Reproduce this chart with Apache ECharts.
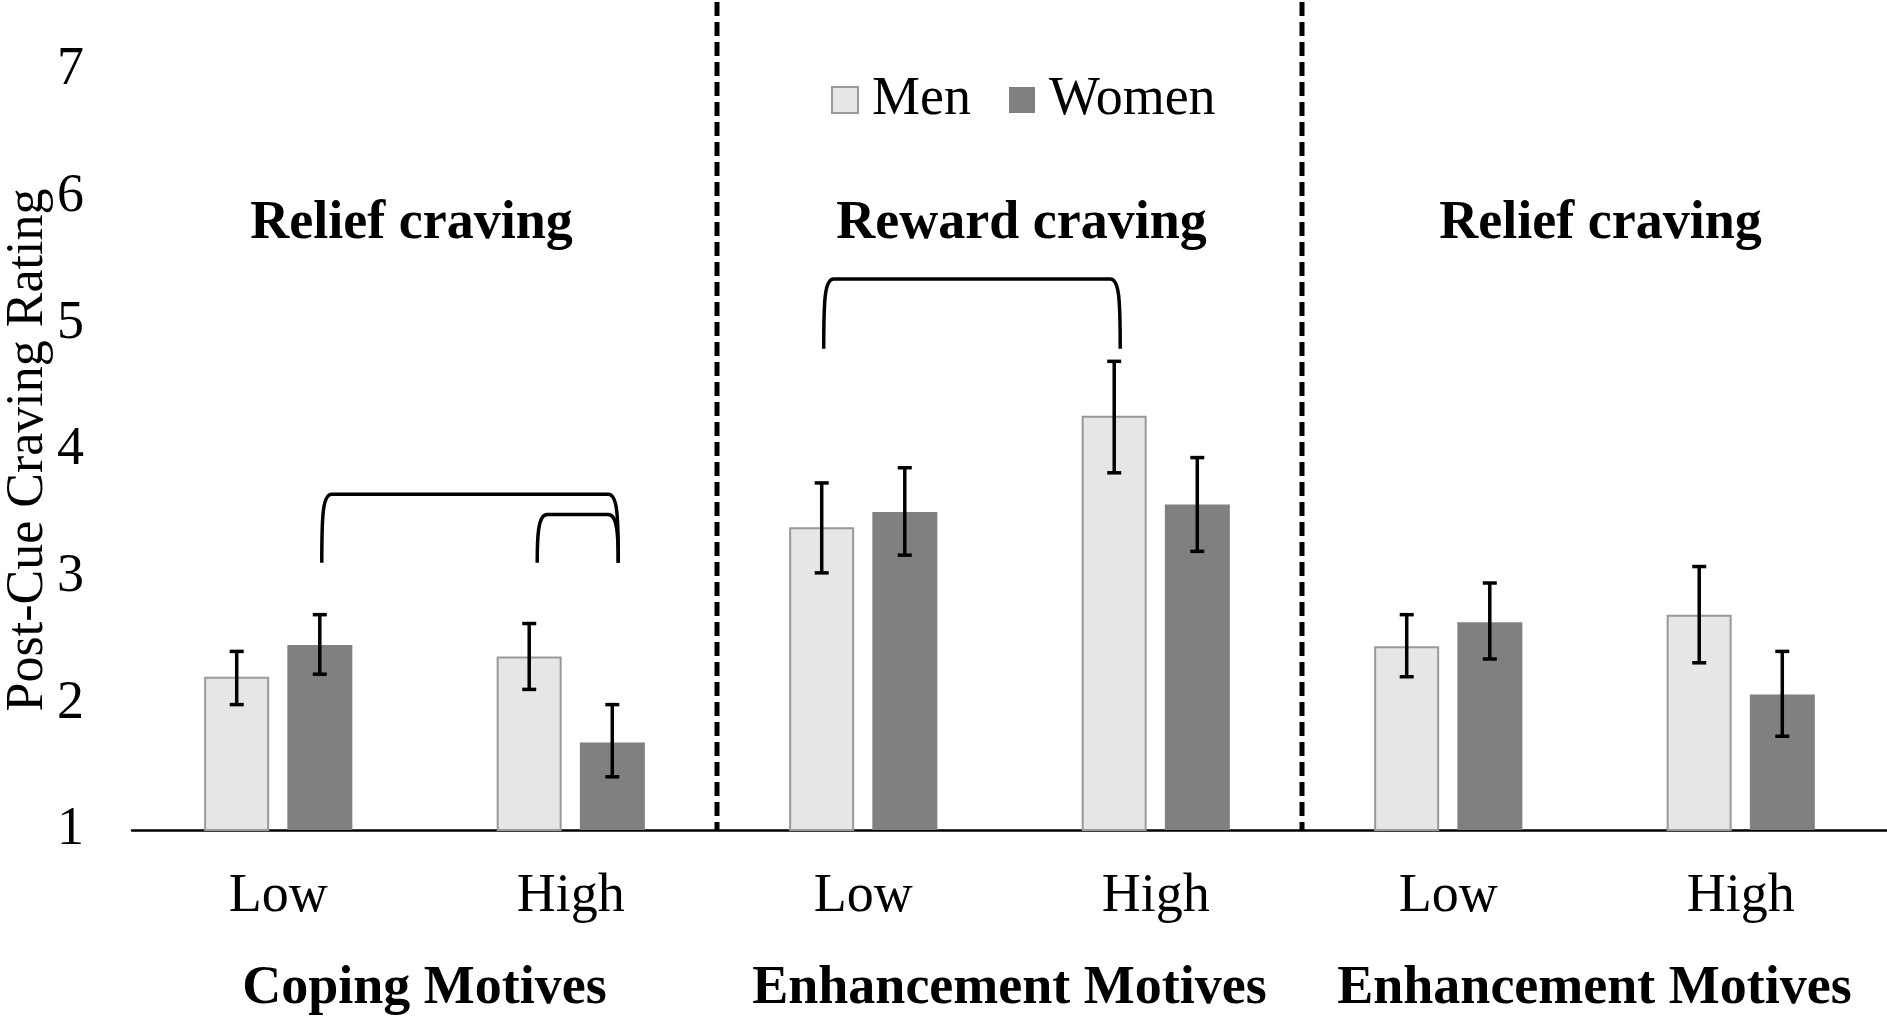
<!DOCTYPE html>
<html><head><meta charset="utf-8">
<script src="https://cdn.jsdelivr.net/npm/echarts@6/dist/echarts.min.js"></script>
<style>html,body{margin:0;padding:0;background:#fff}#c{width:1887px;height:1018px}</style>
</head><body><div id="c"></div>
<script>
const categories = ['Low', 'High', 'Low', 'High', 'Low', 'High'];
const groupNames = ['Coping Motives', 'Enhancement Motives', 'Enhancement Motives'];
const panelTitles = ['Relief craving', 'Reward craving', 'Relief craving'];
const yTicks = [1, 2, 3, 4, 5, 6, 7];
const menValues = [2.21, 2.37, 3.39, 4.27, 2.45, 2.70];
const womenValues = [2.46, 1.69, 3.51, 3.57, 2.64, 2.07];
const menErrLow = [1.99, 2.11, 3.03, 3.82, 2.21, 2.32];
const menErrHigh = [2.41, 2.63, 3.74, 4.70, 2.70, 3.08];
const womenErrLow = [2.23, 1.42, 3.17, 3.20, 2.35, 1.74];
const womenErrHigh = [2.70, 1.99, 3.86, 3.94, 2.95, 2.41];
// brackets: [fromCategory, fromSeries (0 men, 1 women), toCategory, toSeries, topValue, endValue]
const brackets = [
  [0, 1, 1, 1, 3.65, 3.11],
  [1, 0, 1, 1, 3.49, 3.11],
  [2, 0, 3, 0, 5.35, 4.80]
];
const panelTitleValue = 5.78;
const dividerAfter = [1, 3];

const FONT = '"Liberation Serif", "Times New Roman", serif';
const BAR_OFFSET = 0.142; // fraction of category band from center to bar center
const TITLE_SHIFT = [-13, 12, 6]; // small horizontal nudges of panel titles (px)

const chart = echarts.init(document.getElementById('c'), null, {renderer: 'canvas'});

const errData = [];
for (let i = 0; i < categories.length; i++) {
  errData.push([i, 0, menErrLow[i], menErrHigh[i]]);
  errData.push([i, 1, womenErrLow[i], womenErrHigh[i]]);
}

function barX(api, cat, s) {
  const band = api.size([1, 0])[0];
  const c = api.coord([cat, yTicks[0]])[0];
  return c + (s === 0 ? -1 : 1) * band * BAR_OFFSET;
}

const option = {
  animation: false,
  backgroundColor: '#fff',
  grid: {left: 132, right: 0, top: 70, bottom: 188, containLabel: false, outerBoundsMode: 'none'},
  legend: {
    data: ['Men', 'Women'],
    left: 826, top: 68,
    icon: 'rect', itemWidth: 26, itemHeight: 26, itemGap: 38,
    textStyle: {fontFamily: FONT, fontSize: 54, color: '#000', padding: [0, 0, 0, 9]}
  },
  xAxis: [{
    type: 'category', data: categories,
    axisLine: {lineStyle: {color: '#000', width: 2.5}},
    axisTick: {show: false},
    axisLabel: {fontFamily: FONT, fontSize: 54, color: '#000', margin: 40, interval: 0}
  }, {
    type: 'category', data: ['0', '1', '2'], position: 'bottom',
    axisLine: {show: false}, axisTick: {show: false},
    axisLabel: {fontFamily: FONT, fontSize: 54, fontWeight: 'bold', color: '#000', margin: 132,
      interval: 0, hideOverlap: false, formatter: (v, i) => groupNames[i]}
  }],
  yAxis: {
    type: 'value', min: yTicks[0], max: yTicks[yTicks.length - 1], interval: 1,
    axisLine: {show: false}, axisTick: {show: false}, splitLine: {show: false},
    axisLabel: {fontFamily: FONT, fontSize: 54, color: '#000', margin: 48},
    name: 'Post-Cue Craving Rating', nameLocation: 'middle', nameGap: 78, nameMoveOverlap: false,
    nameTextStyle: {fontFamily: FONT, fontSize: 52, color: '#000'}
  },
  series: [{
    name: 'Men', type: 'bar', data: menValues, barWidth: 65, barGap: '28%',
    itemStyle: {color: '#e6e6e6', borderColor: '#999999', borderWidth: 2}
  }, {
    name: 'Women', type: 'bar', data: womenValues, barWidth: 65,
    itemStyle: {color: '#808080'}
  }, {
    type: 'custom', clip: false, data: errData, encode: {x: 0, y: [2, 3]}, z: 5,
    renderItem: function (params, api) {
      const cat = api.value(0), s = api.value(1);
      const x = barX(api, cat, s);
      const yl = api.coord([cat, api.value(2)])[1];
      const yh = api.coord([cat, api.value(3)])[1];
      const w = 7;
      const st = {stroke: '#000', lineWidth: 3.5};
      return {type: 'group', children: [
        {type: 'line', shape: {x1: x, y1: yl, x2: x, y2: yh}, style: st},
        {type: 'line', shape: {x1: x - w, y1: yl, x2: x + w, y2: yl}, style: st},
        {type: 'line', shape: {x1: x - w, y1: yh, x2: x + w, y2: yh}, style: st}
      ]};
    }
  }, {
    type: 'custom', clip: false, data: brackets, encode: {x: [0, 2], y: [4, 5]}, z: 5,
    renderItem: function (params, api) {
      const x1 = barX(api, api.value(0), api.value(1)) + (api.value(1) === 0 && api.value(0) === 1 ? 8 : 2);
      const x2 = barX(api, api.value(2), api.value(3)) + 6;
      const yt = api.coord([0, api.value(4)])[1];
      const ye = api.coord([0, api.value(5)])[1];
      const r = 10;
      const d = `M${x1},${ye} C${x1},${yt + r * 2} ${x1 + 1},${yt} ${x1 + r},${yt} L${x2 - r},${yt} C${x2 - 1},${yt} ${x2},${yt + r * 2} ${x2},${ye}`;
      return {type: 'path', shape: {pathData: d}, style: {stroke: '#000', lineWidth: 3.5, fill: null}};
    }
  }, {
    type: 'custom', clip: false, data: dividerAfter.map(c => [c, yTicks[0]]), encode: {x: 0, y: 1}, z: 4,
    renderItem: function (params, api) {
      const c = api.value(0);
      const x = (api.coord([c, yTicks[0]])[0] + api.coord([c + 1, yTicks[0]])[0]) / 2;
      const yb = api.coord([c, yTicks[0]])[1];
      return {type: 'line', shape: {x1: x, y1: 2, x2: x, y2: yb},
        style: {stroke: '#000', lineWidth: 5, lineDash: [14, 6]}};
    }
  }, {
    type: 'custom', clip: false, data: panelTitles.map((t, i) => [i * 2, panelTitleValue, i]), encode: {x: 0, y: 1}, z: 5,
    renderItem: function (params, api) {
      const c = api.value(0);
      const k = api.value(2);
      const p0 = api.coord([c, api.value(1)]);
      const p1 = api.coord([c + 1, api.value(1)]);
      return {type: 'text', style: {
        text: panelTitles[k], x: (p0[0] + p1[0]) / 2 + TITLE_SHIFT[k], y: p0[1],
        align: 'center', verticalAlign: 'middle',
        fontFamily: FONT, fontSize: 54, fontWeight: 'bold', fill: '#000'}};
    }
  }]
};
chart.setOption(option);
</script></body></html>
